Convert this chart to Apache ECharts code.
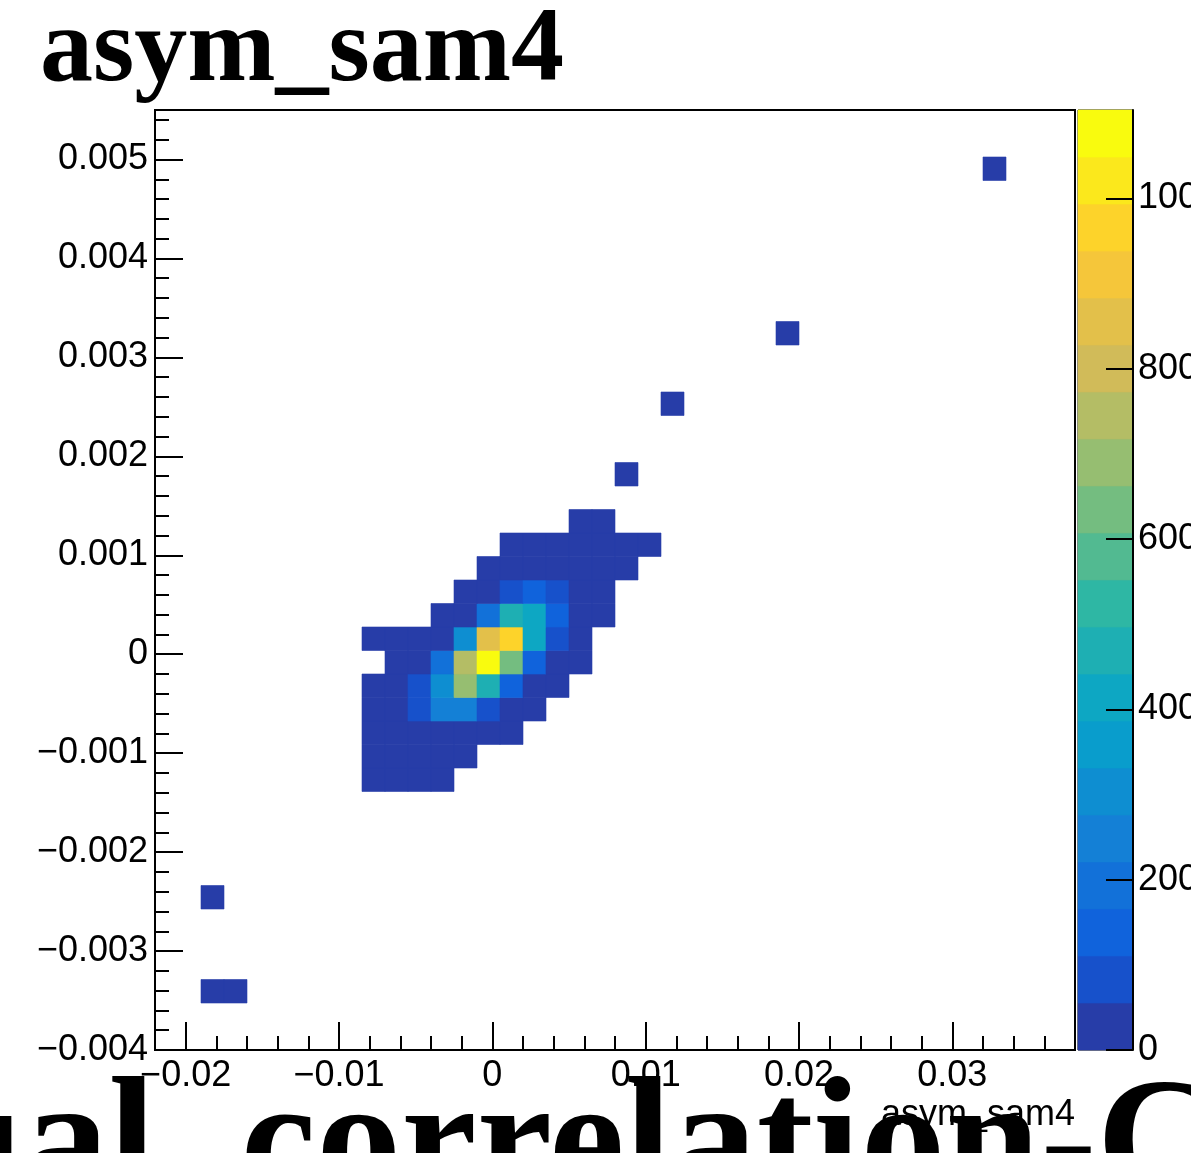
<!DOCTYPE html>
<html>
<head>
<meta charset="utf-8">
<script src="https://cdn.jsdelivr.net/npm/echarts@6.0.0/dist/echarts.min.js"></script>
<style>
  html, body { margin: 0; padding: 0; background: #fff; }
  #chart { width: 1191px; height: 1153px; }
</style>
</head>
<body>
<div id="chart"></div>
<script>
// histogram binning (40 x 40 bins)
const xMin = -0.022, xMax = 0.038, xBinWidth = 0.0015
const yMin = -0.004, yMax = 0.0055, yBinWidth = 0.0002375
const zMax = 1104
const nContours = 20

// core of the distribution, one entry per filled row:
// y bin index, first x bin index, counts of consecutive x bins
const rowY = [11, 12, 13, 14, 15, 16, 17, 18, 19, 20, 21, 22]
const rowFirstX = [9, 9, 9, 9, 9, 10, 9, 12, 13, 14, 15, 18]
const rowCounts = [
  [3, 5, 4, 2],
  [6, 14, 20, 15, 4],
  [10, 22, 40, 50, 45, 30, 5],
  [8, 28, 75, 250, 240, 90, 35, 7],
  [4, 20, 70, 305, 690, 480, 145, 40, 6],
  [6, 30, 195, 745, 1104, 635, 135, 45, 8],
  [3, 10, 22, 48, 300, 860, 965, 400, 95, 25],
  [8, 45, 190, 470, 410, 140, 40, 7],
  [6, 30, 82, 138, 80, 38, 9],
  [5, 12, 28, 40, 35, 20, 6],
  [3, 8, 14, 18, 12, 5, 2],
  [6, 4]
]

// isolated bins
const strayX = [2, 2, 3, 20, 22, 27, 36]
const strayY = [6, 2, 2, 24, 27, 30, 37]
const strayCounts = [1, 1, 1, 1, 1, 1, 1]

// axis ticks
const xMajorTicks = [-0.02, -0.01, 0, 0.01, 0.02, 0.03]
const yMajorTicks = [-0.004, -0.003, -0.002, -0.001, 0, 0.001, 0.002, 0.003, 0.004, 0.005]
const zTicks = [0, 200, 400, 600, 800, 1000]

let xMinorTicks = []
for (let i = 0; i <= 30; i++) xMinorTicks.push(-0.022 + 0.002 * i)
let yMinorTicks = []
for (let i = 0; i <= 47; i++) yMinorTicks.push(-0.004 + 0.0002 * i)

// ROOT kBird palette
const birdStops = [0.0, 0.125, 0.25, 0.375, 0.5, 0.625, 0.75, 0.875, 1.0]
const birdR = [0.2082, 0.0592, 0.0780, 0.0232, 0.1802, 0.5301, 0.8186, 0.9956, 0.9764]
const birdG = [0.1664, 0.3599, 0.5041, 0.6419, 0.7178, 0.7492, 0.7328, 0.7862, 0.9832]
const birdB = [0.5293, 0.8684, 0.8385, 0.7914, 0.6425, 0.4662, 0.3499, 0.1968, 0.0539]

function bird (t) {
  let i = 0
  while (i < birdStops.length - 2 && t > birdStops[i + 1]) i++
  let f = (t - birdStops[i]) / (birdStops[i + 1] - birdStops[i])
  let c = [birdR, birdG, birdB].map(a => Math.round(255 * (a[i] + f * (a[i + 1] - a[i]))))
  return 'rgb(' + c.join(',') + ')'
}

function bandColor (band) {
  let idx = Math.min(254, Math.floor((band + 0.99) * 255 / nContours))
  return bird(idx / 254)
}

function binColor (z) {
  let band = Math.min(nContours - 1, Math.floor(0.01 + z * nContours / zMax))
  return bandColor(band)
}

// build [xLow, yLow, count] items
let bins = []
for (let r = 0; r < rowY.length; r++) {
  for (let c = 0; c < rowCounts[r].length; c++) {
    bins.push([xMin + (rowFirstX[r] + c) * xBinWidth, yMin + rowY[r] * yBinWidth, rowCounts[r][c]])
  }
}
for (let i = 0; i < strayX.length; i++) {
  bins.push([xMin + strayX[i] * xBinWidth, yMin + strayY[i] * yBinWidth, strayCounts[i]])
}

let bands = []
for (let b = 0; b < nContours; b++) bands.push([0, b * zMax / nContours, b])

const fmt = (v, d) => Math.abs(v) < 1e-12 ? '0' : v.toFixed(d).replace('-', '\u2212')
const labelFont = { color: '#000', fontFamily: 'Liberation Sans', fontSize: 36 }
const tickStyle = { color: '#000', width: 2 }

let dom = echarts.init(document.getElementById('chart'), null, { renderer: 'canvas' })

let option = {
  backgroundColor: '#fff',
  animation: false,
  grid: [
    { left: 155, top: 110, width: 920, height: 940, outerBoundsMode: 'none', containLabel: false, show: true, borderColor: '#000', borderWidth: 2, backgroundColor: '#fff' },
    { left: 1078, top: 110, width: 55, height: 940, outerBoundsMode: 'none', containLabel: false, show: true, borderColor: '#000', borderWidth: 1, backgroundColor: 'transparent' }
  ],
  xAxis: [
    {
      type: 'value', gridIndex: 0, min: xMin, max: xMax, position: 'bottom', z: 10,
      axisLine: { show: true, onZero: false, lineStyle: tickStyle },
      axisTick: { show: true, inside: true, length: 28, lineStyle: tickStyle, customValues: xMajorTicks },
      axisLabel: Object.assign({ margin: 8, customValues: xMajorTicks, formatter: v => fmt(v, 2) }, labelFont),
      splitLine: { show: false }
    },
    {
      type: 'value', gridIndex: 0, min: xMin, max: xMax, position: 'bottom', z: 10,
      axisLine: { show: false, onZero: false },
      axisTick: { show: true, inside: true, length: 14, lineStyle: tickStyle, customValues: xMinorTicks },
      axisLabel: { show: false },
      splitLine: { show: false }
    },
    {
      type: 'value', gridIndex: 1, min: 0, max: 1, show: false
    }
  ],
  yAxis: [
    {
      type: 'value', gridIndex: 0, min: yMin, max: yMax, position: 'left', z: 10,
      axisLine: { show: true, onZero: false, lineStyle: tickStyle },
      axisTick: { show: true, inside: true, length: 28, lineStyle: tickStyle, customValues: yMajorTicks },
      axisLabel: Object.assign({ margin: 7, customValues: yMajorTicks, formatter: v => fmt(v, 3) }, labelFont),
      splitLine: { show: false }
    },
    {
      type: 'value', gridIndex: 0, min: yMin, max: yMax, position: 'left', z: 10,
      axisLine: { show: false, onZero: false },
      axisTick: { show: true, inside: true, length: 14, lineStyle: tickStyle, customValues: yMinorTicks },
      axisLabel: { show: false },
      splitLine: { show: false }
    },
    {
      type: 'value', gridIndex: 1, min: 0, max: zMax, position: 'right', z: 10,
      axisLine: { show: true, onZero: false, lineStyle: tickStyle },
      axisTick: { show: true, inside: true, length: 27, lineStyle: tickStyle, customValues: zTicks },
      axisLabel: Object.assign({ margin: 5, customValues: zTicks, formatter: v => String(v) }, labelFont),
      splitLine: { show: false }
    }
  ],
  series: [
    {
      type: 'custom',
      xAxisIndex: 0,
      yAxisIndex: 0,
      z: 2,
      data: bins,
      encode: { x: 0, y: 1 },
      renderItem: (params, api) => {
        let x0 = api.value(0), y0 = api.value(1)
        let p0 = api.coord([x0, y0 + yBinWidth])
        let p1 = api.coord([x0 + xBinWidth, y0])
        let col = binColor(api.value(2))
        return {
          type: 'rect',
          shape: { x: p0[0], y: p0[1], width: p1[0] - p0[0], height: p1[1] - p0[1] },
          style: { fill: col, stroke: col, lineWidth: 0.6 }
        }
      }
    },
    {
      type: 'custom',
      xAxisIndex: 2,
      yAxisIndex: 2,
      z: 2,
      data: bands,
      encode: { x: 0, y: 1 },
      renderItem: (params, api) => {
        let lo = api.value(1)
        let p0 = api.coord([0, lo + zMax / nContours])
        let p1 = api.coord([1, lo])
        let col = bandColor(api.value(2))
        return {
          type: 'rect',
          shape: { x: p0[0], y: p0[1], width: p1[0] - p0[0], height: p1[1] - p0[1] },
          style: { fill: col, stroke: col, lineWidth: 0.6 }
        }
      }
    }
  ],
  graphic: [
    {
      type: 'text', x: 40, y: 53, z: 100,
      style: { text: 'asym_sam4', font: 'bold 106px "Liberation Serif"', fill: '#000', align: 'left', verticalAlign: 'middle' }
    },
    {
      type: 'text', x: 1075, y: 1115, z: 100,
      style: { text: 'asym_sam4', font: '36px "Liberation Sans"', fill: '#000', align: 'right', verticalAlign: 'middle' }
    },
    {
      type: 'text', x: -71, y: 1150, z: 101,
      style: { text: 'ual_correlation-C', font: 'bold 170px "Liberation Serif"', fill: '#000', align: 'left', verticalAlign: 'middle' }
    }
  ]
}

dom.setOption(option)
window.addEventListener('resize', () => dom.resize())
</script>
</body>
</html>
